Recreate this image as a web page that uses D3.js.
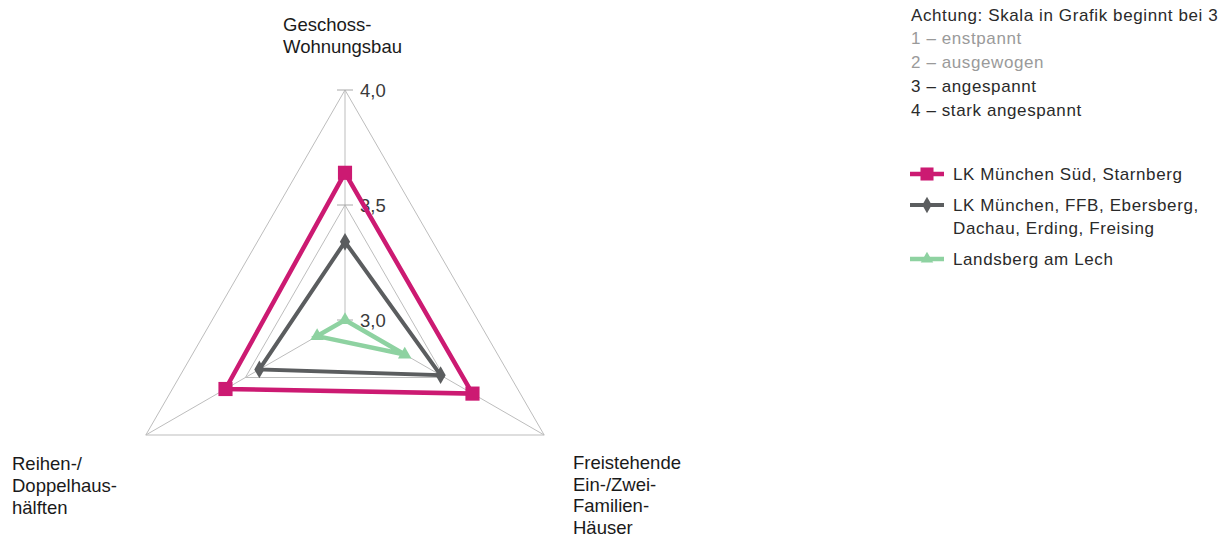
<!DOCTYPE html>
<html>
<head>
<meta charset="utf-8">
<script src="https://cdn.jsdelivr.net/npm/d3@7"></script>
<style>
  html, body { margin: 0; padding: 0; background: #fff; }
  svg { display: block; }
</style>
</head>
<body>
<svg id="chart" width="1222" height="538"></svg>
<script>
// Radar axes, clockwise from the top
const axes = [
  ["Geschoss-", "Wohnungsbau"],
  ["Freistehende", "Ein-/Zwei-", "Familien-", "Häuser"],
  ["Reihen-/", "Doppelhaus-", "hälften"]
];

// Market-tension rating per region (scale shown from 3 to 4)
const muenchenSued = [3.64, 3.64, 3.60];
const muenchenUmland = [3.34, 3.48, 3.43];
const landsberg = [3.00, 3.30, 3.14];

const seriesNames = [
  ["LK München Süd, Starnberg"],
  ["LK München, FFB, Ebersberg,", "Dachau, Erding, Freising"],
  ["Landsberg am Lech"]
];

const tickValues = [3.0, 3.5, 4.0];

const noteTitle = "Achtung: Skala in Grafik beginnt bei 3";
const noteLines = ["1 – enstpannt", "2 – ausgewogen", "3 – angespannt", "4 – stark angespannt"];

const svg = d3.select("#chart");
const cx = 345, cy = 320, R = 230;

const r = d3.scaleLinear().domain([3, 4]).range([0, R]);
const angle = d3.scaleLinear().domain([0, axes.length]).range([-Math.PI / 2, 1.5 * Math.PI]);
const fmt = d3.formatLocale({ decimal: ",", thousands: ".", grouping: [3], currency: ["", " €"] }).format(".1f");

const pt = (i, v) => [cx + r(v) * Math.cos(angle(i)), cy + r(v) * Math.sin(angle(i))];
const closed = d3.line().curve(d3.curveLinearClosed);

const FONT = "'Liberation Sans', Arial, sans-serif";
const gridColor = "#bdbdbd";

// grid triangles
const grid = svg.append("g");
tickValues.filter(t => t > 3).forEach(t => {
  grid.append("path")
    .attr("d", closed(axes.map((_, i) => pt(i, t))))
    .attr("fill", "none").attr("stroke", gridColor).attr("stroke-width", 1);
});
// spokes
axes.forEach((_, i) => {
  const [x, y] = pt(i, 4);
  grid.append("line").attr("x1", cx).attr("y1", cy).attr("x2", x).attr("y2", y)
    .attr("stroke", gridColor).attr("stroke-width", 1);
});
// value ticks on the top spoke
tickValues.forEach(t => {
  const [x, y] = pt(0, t);
  grid.append("line").attr("x1", x - 8).attr("x2", x + 8).attr("y1", y).attr("y2", y)
    .attr("stroke", "#a8a8a8").attr("stroke-width", 1);
  grid.append("text").attr("x", x + 15).attr("y", y + 7)
    .attr("font-family", FONT).attr("font-size", 18.5).attr("fill", "#3a3a3a")
    .text(fmt(t));
});

// series
const series = [
  { values: muenchenSued, color: "#cc1a72", width: 4.5, marker: d3.symbolSquare, size: 200 },
  { values: muenchenUmland, color: "#5b5d5f", width: 4, marker: d3.symbolDiamond, size: 90 },
  { values: landsberg, color: "#8ed2a1", width: 4.5, marker: d3.symbolTriangle, size: 80 }
];

series.slice().reverse().forEach(s => {
  const g = svg.append("g");
  const pts = s.values.map((v, i) => pt(i, v));
  g.append("path").attr("d", closed(pts))
    .attr("fill", "none").attr("stroke", s.color).attr("stroke-width", s.width)
    .attr("stroke-linejoin", "miter");
  g.selectAll("path.m").data(pts).join("path").attr("class", "m")
    .attr("transform", d => `translate(${d[0]},${d[1]})`)
    .attr("d", d3.symbol().type(s.marker).size(s.size))
    .attr("fill", s.color);
});

// axis labels
const labelPos = [
  { x: 283, y: 31, step: 22 },
  { x: 573, y: 469, step: 21.5 },
  { x: 12, y: 470, step: 22 }
];
axes.forEach((lines, i) => {
  const t = svg.append("text").attr("font-family", FONT).attr("font-size", 18.5).attr("fill", "#1a1a1a");
  lines.forEach((l, k) => t.append("tspan").attr("x", labelPos[i].x).attr("y", labelPos[i].y + k * labelPos[i].step).text(l));
});

// scale note
const LFONT = "'Liberation Sans', Arial, sans-serif";
const LSIZE = 17;
const LSPACE = 0.6;
svg.append("text").attr("x", 911).attr("y", 21).attr("font-family", LFONT).attr("font-size", LSIZE)
  .attr("letter-spacing", LSPACE).attr("fill", "#2a2a2a").text(noteTitle);
noteLines.forEach((l, k) => {
  svg.append("text").attr("x", 911).attr("y", 44 + k * 24).attr("font-family", LFONT).attr("font-size", LSIZE)
    .attr("letter-spacing", LSPACE).attr("fill", k < 2 ? "#9a9a9a" : "#2a2a2a").text(l);
});

// legend
const legendY = [174, 205, 259];
series.forEach((s, i) => {
  const y = legendY[i];
  svg.append("line").attr("x1", 910).attr("x2", 944).attr("y1", y).attr("y2", y)
    .attr("stroke", s.color).attr("stroke-width", s.width);
  svg.append("path").attr("transform", `translate(927,${y})`)
    .attr("d", d3.symbol().type(s.marker).size(s.size * 0.85)).attr("fill", s.color);
  const t = svg.append("text").attr("font-family", LFONT).attr("font-size", LSIZE)
    .attr("letter-spacing", LSPACE).attr("fill", "#2a2a2a");
  seriesNames[i].forEach((l, k) => t.append("tspan").attr("x", 953).attr("y", y + 6 + k * 23).text(l));
});
</script>
</body>
</html>
